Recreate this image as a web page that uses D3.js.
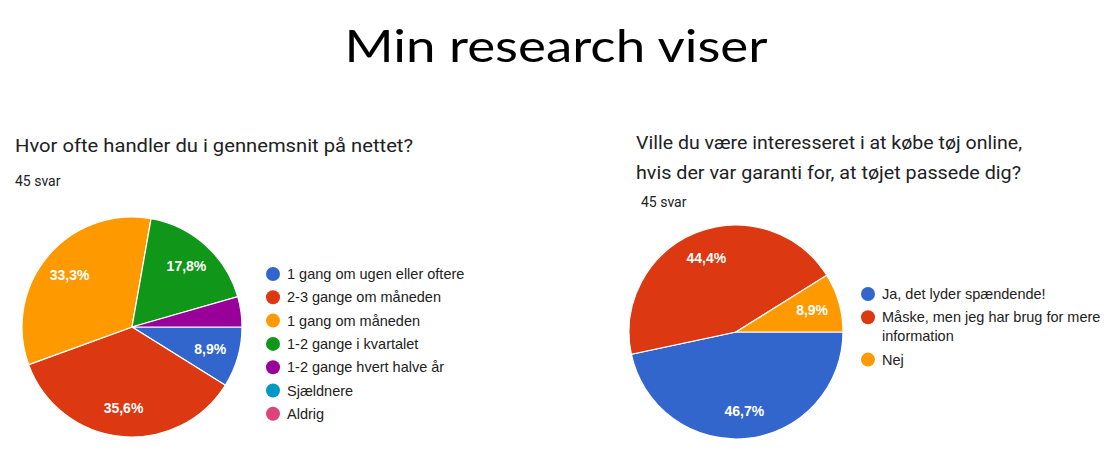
<!DOCTYPE html>
<html>
<head>
<meta charset="utf-8">
<script src="https://cdn.jsdelivr.net/npm/d3@7"></script>
<style>
  html, body { margin: 0; padding: 0; background: #fff; }
  svg { display: block; }
</style>
</head>
<body>
<svg id="chart" width="1106" height="458"></svg>
<script>
// ---- Data ----
const mainTitle = "Min research viser";

const leftQuestion = ["Hvor ofte handler du i gennemsnit på nettet?"];
const leftQuestionWidths = [398];
const leftResponses = "45 svar";
const leftCategories = [
  "1 gang om ugen eller oftere",
  "2-3 gange om måneden",
  "1 gang om måneden",
  "1-2 gange i kvartalet",
  "1-2 gange hvert halve år",
  "Sjældnere",
  "Aldrig"
];
const leftValues = [4, 16, 15, 8, 2, 0, 0];

const rightQuestion = [
  "Ville du være interesseret i at købe tøj online,",
  "hvis der var garanti for, at tøjet passede dig?"
];
const rightQuestionWidths = [386, 385];
const rightResponses = "45 svar";
const rightCategories = [
  ["Ja, det lyder spændende!"],
  ["Måske, men jeg har brug for mere", "information"],
  ["Nej"]
];
const rightValues = [21, 20, 4];

const palette = ["#3366cc", "#dc3912", "#ff9900", "#109618", "#990099", "#0099c6", "#dd4477"];

// ---- Drawing ----
const svg = d3.select("#chart");

svg.append("text")
  .attr("x", 556).attr("y", 62)
  .attr("text-anchor", "middle")
  .attr("font-family", "Lato, 'Open Sans', sans-serif")
  .attr("font-size", 45)
  .attr("fill", "#000")
  .attr("textLength", 423)
  .attr("lengthAdjust", "spacingAndGlyphs")
  .text(mainTitle);

function fmtPct(v, total) {
  return (v / total * 100).toFixed(1).replace(".", ",") + "%";
}

function drawPie(cfg) {
  const g = svg.append("g");
  // question
  cfg.question.forEach((line, i) => {
    g.append("text")
      .attr("x", cfg.qx).attr("y", cfg.qy + i * 30)
      .attr("font-family", "Roboto, Arial, sans-serif")
      .attr("font-size", 19)
      .attr("fill", "#202124")
      .attr("textLength", cfg.qWidths[i])
      .attr("lengthAdjust", "spacingAndGlyphs")
      .text(line);
  });
  g.append("text")
    .attr("x", cfg.rx).attr("y", cfg.ry)
    .attr("font-family", "Roboto, Arial, sans-serif")
    .attr("font-size", 14)
    .attr("fill", "#202124")
    .text(cfg.responses);

  const total = d3.sum(cfg.values);
  const pie = d3.pie().sort(null).value(d => d)
    .startAngle(Math.PI / 2).endAngle(Math.PI / 2 + 2 * Math.PI);
  const arcs = pie(cfg.values);
  const arc = d3.arc().innerRadius(0).outerRadius(cfg.r);
  const labelArc = d3.arc().innerRadius(cfg.r * 0.74).outerRadius(cfg.r * 0.74);

  const pg = g.append("g").attr("transform", `translate(${cfg.cx},${cfg.cy})`);
  pg.selectAll("path").data(arcs.filter(d => d.value > 0)).join("path")
    .attr("d", arc)
    .attr("fill", d => palette[d.index])
    .attr("stroke", "#fff")
    .attr("stroke-width", 1.2);

  pg.selectAll("text").data(arcs.filter(d => d.value / total > 0.05)).join("text")
    .attr("transform", d => `translate(${labelArc.centroid(d)})`)
    .attr("text-anchor", "middle")
    .attr("dy", "0.35em")
    .attr("font-family", "Arial, 'Liberation Sans', sans-serif")
    .attr("font-size", 14)
    .attr("font-weight", "bold")
    .attr("fill", "#fff")
    .text(d => fmtPct(d.value, total));

  // legend
  const lg = g.append("g");
  let y = cfg.ly;
  cfg.categories.forEach((lines, i) => {
    const arr = Array.isArray(lines) ? lines : [lines];
    lg.append("circle")
      .attr("cx", cfg.lx).attr("cy", y)
      .attr("r", 7)
      .attr("fill", palette[i]);
    arr.forEach((t, j) => {
      lg.append("text")
        .attr("x", cfg.lx + 14).attr("y", y + j * 19)
        .attr("dy", "0.35em")
        .attr("font-family", "Arial, 'Liberation Sans', sans-serif")
        .attr("font-size", 14.5)
        .attr("fill", "#222")
        .text(t);
    });
    y += cfg.lstep + (arr.length - 1) * 19;
  });
}

drawPie({
  question: leftQuestion, qWidths: leftQuestionWidths, qx: 15, qy: 152,
  responses: leftResponses, rx: 15, ry: 186,
  values: leftValues, categories: leftCategories,
  cx: 132, cy: 327, r: 110,
  lx: 273, ly: 274, lstep: 23.3
});

drawPie({
  question: rightQuestion, qWidths: rightQuestionWidths, qx: 636, qy: 149,
  responses: rightResponses, rx: 641, ry: 207,
  values: rightValues, categories: rightCategories,
  cx: 736, cy: 332, r: 107,
  lx: 868, ly: 294, lstep: 23.3
});
</script>
</body>
</html>
